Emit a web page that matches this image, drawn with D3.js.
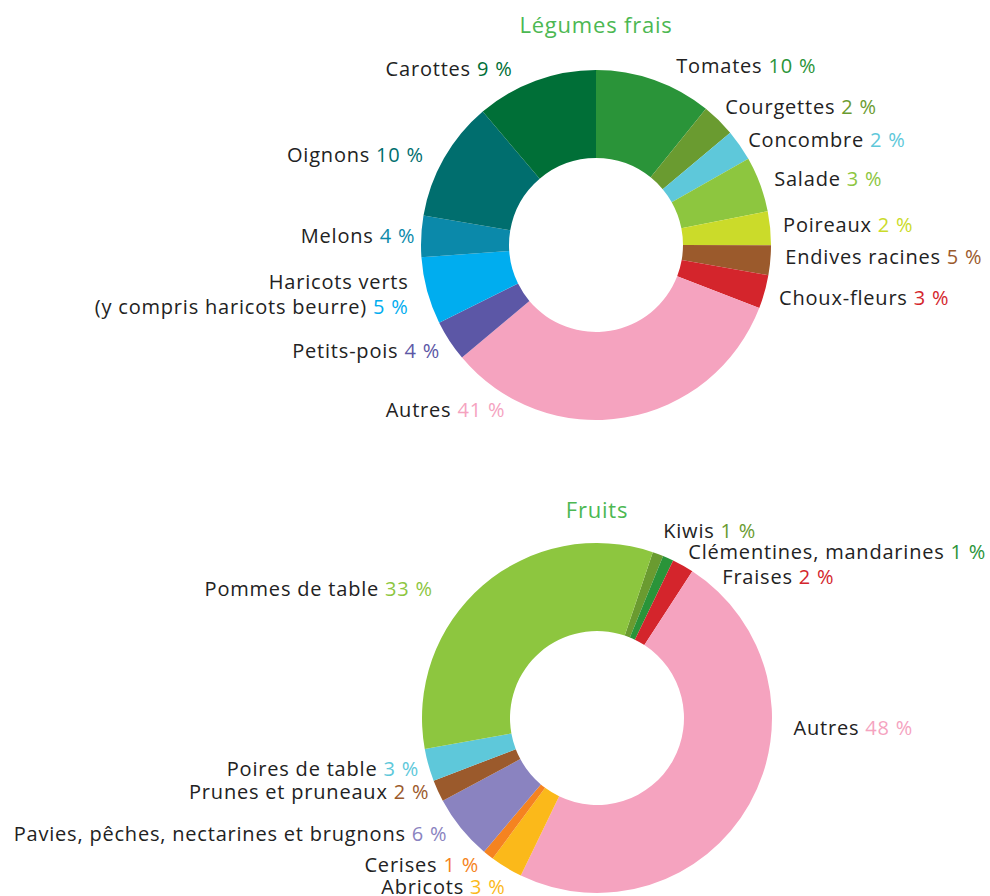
<!DOCTYPE html>
<html>
<head>
<meta charset="utf-8">
<script src="https://cdn.jsdelivr.net/npm/d3@7"></script>
<style>
  body { margin: 0; background: #fff; }
  svg text { font-family: "Open Sans", sans-serif; letter-spacing: 0.8px; }
</style>
</head>
<body>
<svg id="chart" width="990" height="896"></svg>
<script>
// Légumes frais - slice shares as drawn, and the printed percentages
const vegNames = ["Tomates", "Courgettes", "Concombre", "Salade", "Poireaux", "Endives racines",
  "Choux-fleurs", "Autres", "Petits-pois", "Haricots verts\n(y compris haricots beurre)", "Melons", "Oignons", "Carottes"];
const vegShares = [10.8, 3.1, 2.9, 5.1, 3.1, 2.75, 3.1, 33.0, 3.8, 6.2, 3.8, 11.1, 11.2];
const vegPct = [10, 2, 2, 3, 2, 5, 3, 41, 4, 5, 4, 10, 9];

// Fruits
const fruitNames = ["Kiwis", "Clémentines, mandarines", "Fraises", "Autres", "Abricots", "Cerises",
  "Pavies, pêches, nectarines et brugnons", "Prunes et pruneaux", "Poires de table", "Pommes de table"];
const fruitShares = [1, 1, 2, 48, 3, 1, 6, 2, 3, 33];
const fruitPct = [1, 1, 2, 48, 3, 1, 6, 2, 3, 33];

// colours
const C = {
  green: "#2a9439", olive: "#6a9b30", cyan: "#5ec8da", lime: "#8dc63f", yellow: "#cbdb2a",
  brown: "#9b5a2c", red: "#d4252c", pink: "#f5a3bf", purple: "#5c57a6", blue: "#00adef",
  teal: "#0b89aa", darkTeal: "#006e6e", darkGreen: "#006f37", orange: "#f58320",
  amber: "#fbb91a", lavender: "#8a83c0"
};
const vegColors = [C.green, C.olive, C.cyan, C.lime, C.yellow, C.brown, C.red, C.pink,
  C.purple, C.blue, C.teal, C.darkTeal, C.darkGreen];
const fruitColors = [C.olive, C.green, C.red, C.pink, C.amber, C.orange, C.lavender,
  C.brown, C.cyan, C.lime];

// hand tweaks where the labels were moved off their slice
const vegNudge = {
  0: { dx: 17, dy: 0 }, 1: { dx: -4, dy: -2 }, 2: { dx: -4, dy: 3 }, 4: { dx: -2, dy: -2 },
  5: { dx: 0, dy: -5 }, 6: { dx: 0, dy: 2 }, 7: { dx: -122, dy: -22, anchor: "end" },
  8: { dx: 3, dy: 2 }, 9: { dx: -4, dy: 0 }, 10: { dx: 9, dy: 0 }, 11: { dx: -7, dy: 4 },
  12: { dx: -18, dy: 2 }
};
const fruitNudge = {
  0: { dx: 0, dy: -9 }, 1: { dx: 14, dy: 8 }, 2: { dx: 32, dy: 25 },
  3: { dx: 31, dy: -83 }, 4: { dx: 7, dy: 6 }, 5: { dx: 0, dy: -2 },
  6: { dx: -2, dy: -4 }, 7: { dx: 5, dy: -5 }, 8: { dx: 5, dy: 0 }, 9: { dx: -40, dy: 15 }
};

const svg = d3.select("#chart");
const outerR = 175, innerR = 87, labelR = 190;
const fontSize = 20;

function drawDonut(cfg) {
  const data = cfg.names.map((n, i) => ({
    name: n, value: cfg.shares[i], pct: cfg.pct[i], color: cfg.colors[i], i
  }));

  const g = svg.append("g").attr("transform", `translate(${cfg.cx},${cfg.cy})`);

  g.append("text")
    .attr("x", 0)
    .attr("y", -outerR - cfg.titleGap)
    .attr("text-anchor", "middle")
    .attr("fill", "#4cb852")
    .attr("font-size", 22)
    .text(cfg.title);

  const pie = d3.pie()
    .sort(null)
    .value(d => d.value)
    .startAngle(cfg.start)
    .endAngle(cfg.start + 2 * Math.PI);

  const arc = d3.arc().innerRadius(innerR).outerRadius(outerR);
  const arcs = pie(data);

  g.selectAll("path.slice")
    .data(arcs)
    .enter()
    .append("path")
    .attr("class", "slice")
    .attr("d", arc)
    .attr("fill", d => d.data.color);

  g.selectAll("text.lbl")
    .data(arcs)
    .enter()
    .append("text")
    .attr("class", "lbl")
    .attr("font-size", fontSize)
    .attr("fill", "#222")
    .each(function (d) {
      const a = (d.startAngle + d.endAngle) / 2;
      const nudge = cfg.nudge[d.data.i] || {};
      const x = labelR * Math.sin(a) + (nudge.dx || 0);
      const y = -labelR * Math.cos(a) + (nudge.dy || 0);
      const anchor = nudge.anchor || (Math.sin(a) >= 0 ? "start" : "end");
      const t = d3.select(this).attr("text-anchor", anchor);
      const lines = d.data.name.split("\n");
      const lineH = 25;
      const y0 = y - (lines.length - 1) * lineH / 2;
      lines.forEach((line, k) => {
        t.append("tspan")
          .attr("x", x)
          .attr("y", y0 + k * lineH)
          .attr("dy", "0.35em")
          .text(line);
        if (k === lines.length - 1) {
          t.append("tspan")
            .attr("fill", d.data.color)
            .text(" " + d.data.pct + " %");
        }
      });
    });
}

drawDonut({
  title: "Légumes frais", cx: 596, cy: 245, start: 0, titleGap: 37,
  names: vegNames, shares: vegShares, pct: vegPct, colors: vegColors, nudge: vegNudge
});

drawDonut({
  title: "Fruits", cx: 597, cy: 718, start: 18.6 * Math.PI / 180, titleGap: 25,
  names: fruitNames, shares: fruitShares, pct: fruitPct, colors: fruitColors, nudge: fruitNudge
});
</script>
</body>
</html>
